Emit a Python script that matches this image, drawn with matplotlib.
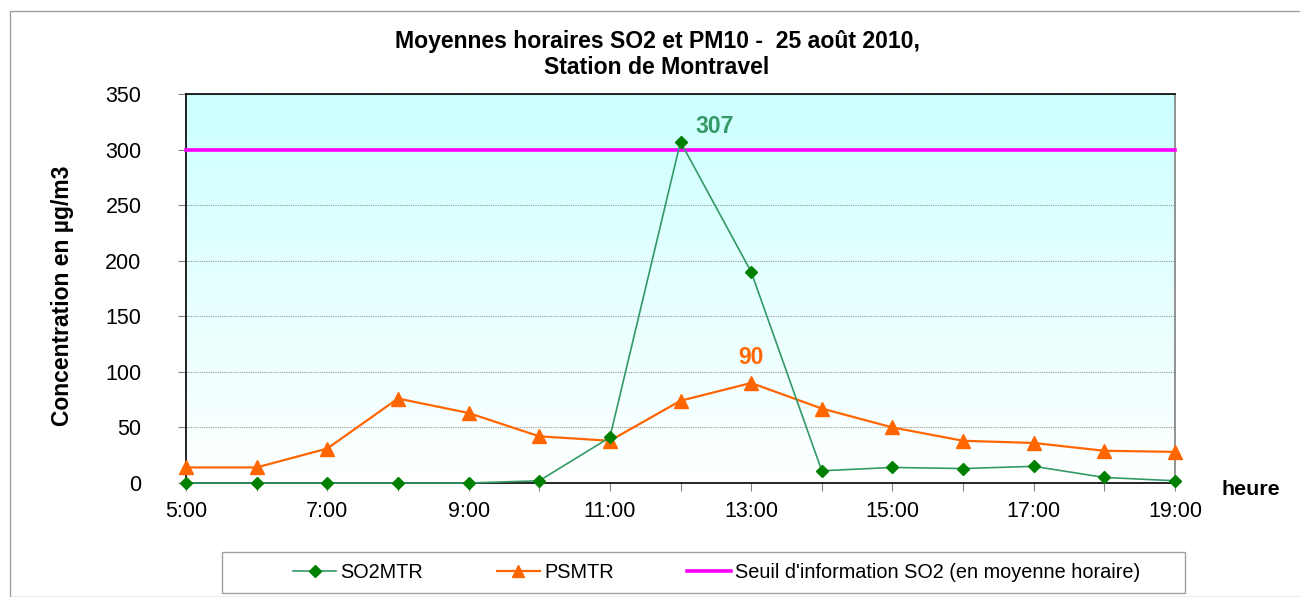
import matplotlib
matplotlib.use("Agg")
import matplotlib.pyplot as plt
import numpy as np
from matplotlib.patches import Rectangle

plt.rcParams['font.family'] = ['Liberation Sans', 'DejaVu Sans']

hours = list(range(5, 20))
tick_labels = [f"{h}:00" for h in hours]
so2 = [0, 0, 0, 0, 0, 2, 41, 307, 190, 11, 14, 13, 15, 5, 2]
pm10 = [14, 14, 31, 76, 63, 42, 38, 74, 90, 67, 50, 38, 36, 29, 28]
seuil = 300

W, H = 1300, 597
fig = plt.figure(figsize=(W / 100, H / 100), dpi=100)
ax = fig.add_axes([186 / W, 1 - 483 / H, (1175 - 186) / W, (483 - 94) / H])

# gradient background
grad = np.linspace(0, 1, 256).reshape(-1, 1)
top = np.array([0.80, 1.0, 1.0])
bot = np.array([1.0, 1.0, 1.0])
img = bot[None, None, :] * (1 - grad[:, :, None]) + top[None, None, :] * grad[:, :, None]
ax.imshow(img, extent=[0, 1, 0, 1], transform=ax.transAxes, aspect='auto',
          origin='lower', zorder=0)

ax.set_xlim(5, 19)
ax.set_ylim(0, 350)
ax.set_yticks(range(0, 351, 50))
ax.set_xticks(hours)
ax.set_xticklabels([lab if i % 2 == 0 else "" for i, lab in enumerate(tick_labels)])
ax.grid(axis='y', color='#999999', linestyle=(0, (1, 1)), linewidth=0.8, zorder=1)
ax.set_axisbelow(True)

l3, = ax.plot(hours, [seuil] * len(hours), color='#FF00FF', lw=2.6,
              label="Seuil d'information SO2 (en moyenne horaire)", zorder=3, clip_on=False)
l1, = ax.plot(hours, so2, color='#339966', lw=1.2, marker='D', markersize=6.3,
              markerfacecolor='#008000', markeredgecolor='#008000', label='SO2MTR',
              zorder=5, clip_on=False)
l2, = ax.plot(hours, pm10, color='#FF6600', lw=1.6, marker='^', markersize=10.5,
              markerfacecolor='#FF6600', markeredgecolor='#FF6600', label='PSMTR',
              zorder=4, clip_on=False)

ax.annotate("307", (12, 307), xytext=(10.5, 6.5), textcoords='offset points',
            color='#339966', fontsize=16.5, fontweight='bold', ha='left', va='baseline')
ax.annotate("90", (13, 90), xytext=(0, 14), textcoords='offset points',
            color='#FF6600', fontsize=16.5, fontweight='bold', ha='center', va='baseline')

for s in ['left', 'bottom', 'top']:
    ax.spines[s].set_color('black')
    ax.spines[s].set_linewidth(1.2)
ax.spines['right'].set_color('#808080')
ax.spines['right'].set_linewidth(1.2)

ax.tick_params(axis='both', labelsize=15.5, length=6, color='#808080', direction='out')
ax.tick_params(axis='y', pad=26)
ax.tick_params(axis='x', pad=7)

fig.text(62.5 / W, 1 - 295.5 / H, "Concentration en µg/m3", fontsize=16.5,
         fontweight='bold', ha='center', va='center', rotation=90)
fig.text(1221.7 / W, 1 - 495 / H, "heure", fontsize=15.4, fontweight='bold',
         ha='left', va='baseline')

fig.text(657 / W, 1 - 48 / H, "Moyennes horaires SO2 et PM10 -  25 août 2010,",
         fontsize=16.6, fontweight='bold', ha='center', va='baseline')
fig.text(657 / W, 1 - 74 / H, "Station de Montravel",
         fontsize=16.6, fontweight='bold', ha='center', va='baseline')

# legend frame (drawn separately, wider than its content like the original)
fig.patches.append(Rectangle((221.7 / W, 1 - 592.7 / H), (1185 - 221.7) / W, 41 / H,
                             transform=fig.transFigure, fill=False,
                             edgecolor='#A0A0A0', linewidth=1))
leg = fig.legend(handles=[l1, l2, l3], loc='center left',
                 bbox_to_anchor=(292.7 / W, 1 - 572 / H),
                 ncol=3, fontsize=14.3, frameon=False,
                 handlelength=2.2, columnspacing=3.7, handletextpad=0.2,
                 borderpad=0, borderaxespad=0)
for h in leg.legend_handles:
    if h.get_marker() == '^':
        h.set_markersize(9)

fig.patches.append(Rectangle((10 / W, 0), 1.0, 1 - 11 / H, transform=fig.transFigure,
                             fill=False, edgecolor='#A0A0A0', linewidth=1))

fig.savefig("out.png", dpi=100)
